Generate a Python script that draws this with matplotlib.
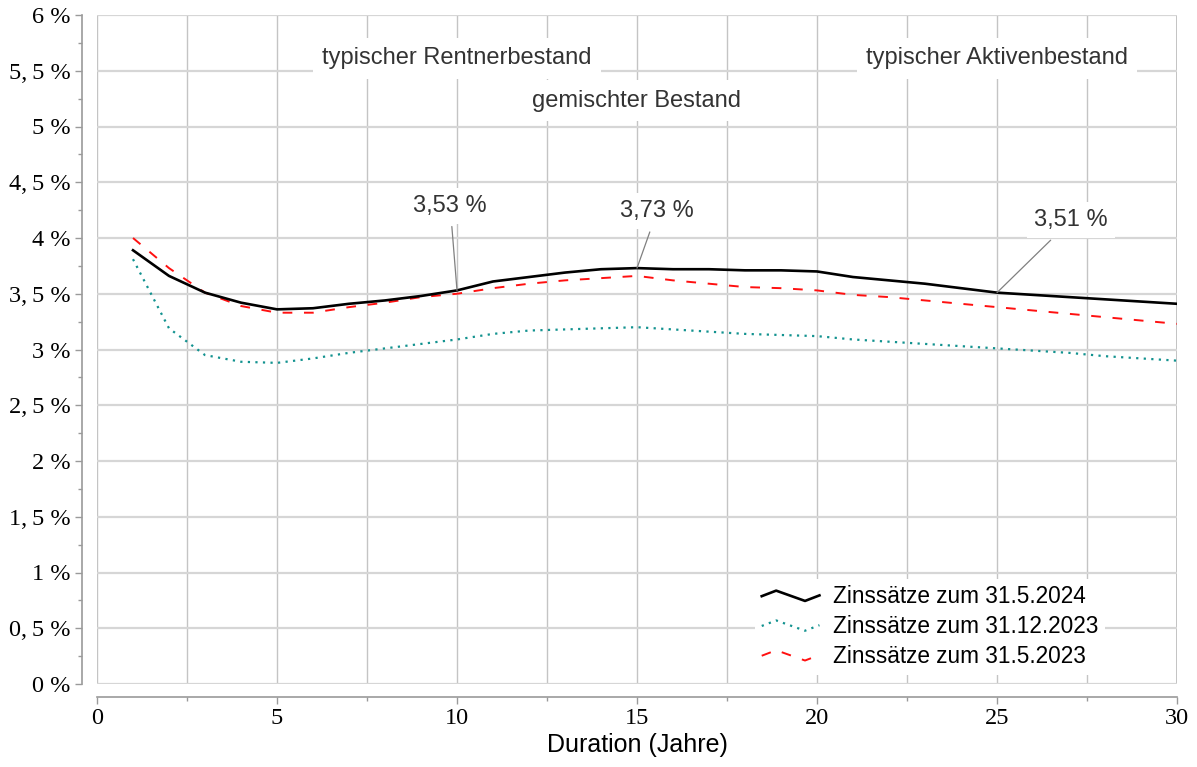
import numpy as np
import matplotlib
matplotlib.use("Agg")
import matplotlib.pyplot as plt
from matplotlib.ticker import MultipleLocator, FuncFormatter
from matplotlib.legend_handler import HandlerBase
from matplotlib.lines import Line2D

# Duration in Jahren
duration = list(range(1, 31))

# Zinssätze in %
zins_2024_05 = [3.89, 3.66, 3.51, 3.42, 3.36, 3.37, 3.41, 3.44, 3.48, 3.53,
                3.61, 3.65, 3.69, 3.72, 3.73, 3.72, 3.72, 3.71, 3.71, 3.70,
                3.65, 3.62, 3.59, 3.55, 3.51, 3.49, 3.47, 3.45, 3.43, 3.41]
zins_2023_12 = [3.81, 3.19, 2.95, 2.89, 2.88, 2.92, 2.97, 3.01, 3.05, 3.09,
                3.14, 3.17, 3.18, 3.19, 3.20, 3.18, 3.16, 3.14, 3.13, 3.12,
                3.09, 3.07, 3.05, 3.03, 3.01, 2.99, 2.97, 2.94, 2.92, 2.90]
zins_2023_05 = [4.00, 3.73, 3.51, 3.39, 3.33, 3.33, 3.38, 3.42, 3.47, 3.50,
                3.55, 3.59, 3.62, 3.64, 3.66, 3.62, 3.59, 3.56, 3.55, 3.53,
                3.49, 3.47, 3.44, 3.41, 3.38, 3.35, 3.32, 3.29, 3.26, 3.23]

series_labels = ["Zinssätze zum 31.5.2024", "Zinssätze zum 31.12.2023", "Zinssätze zum 31.5.2023"]

# Markierungen
marker_x = [10, 15, 25]
marker_y = [3.53, 3.73, 3.51]
marker_text = ["3,53 %", "3,73 %", "3,51 %"]
marker_text_x = [9.81, 15.56, 27.06]
marker_text_y = [4.29, 4.24, 4.16]

bestand_text = ["typischer Rentnerbestand", "gemischter Bestand", "typischer Aktivenbestand"]
bestand_x = [10, 15, 25]
bestand_y = [5.61, 5.23, 5.61]


class ZigzagHandler(HandlerBase):
    def create_artists(self, legend, orig_handle, xdescent, ydescent, width, height, fontsize, trans):
        xs = np.array([0.0, 0.25, 0.75, 1.0]) * width - xdescent
        ys = np.array([0.45, 0.8, 0.15, 0.5]) * height - ydescent
        line = Line2D(xs, ys)
        line.update_from(orig_handle)
        line.set_transform(trans)
        return [line]


def fmt_pct(v, pos):
    s = ("%g" % v).replace(".", ",\u2009")
    return s + " %"


fig = plt.figure(figsize=(11.97, 7.67), dpi=100)
ax = fig.add_axes([97 / 1197, 1 - 684 / 767, 1080 / 1197, 669 / 767])

l1, = ax.plot(duration, zins_2024_05, color="black", lw=1.9, zorder=4)
l2, = ax.plot(duration, zins_2023_12, color="#12928f", lw=1.6, ls=(0, (1, 2.4)), zorder=3)
l3, = ax.plot(duration, zins_2023_05, color="#ff1010", lw=1.4, ls=(0, (5, 6)), zorder=3)

ax.set_xlim(0, 30)
ax.set_ylim(0, 6)
ax.xaxis.set_major_locator(MultipleLocator(5))
ax.xaxis.set_minor_locator(MultipleLocator(2.5))
ax.yaxis.set_major_locator(MultipleLocator(0.5))
ax.yaxis.set_minor_locator(MultipleLocator(0.25))
ax.yaxis.set_major_formatter(FuncFormatter(fmt_pct))

ax.grid(axis="y", which="major", color="#d6d6d6", lw=1.6)
ax.grid(axis="x", which="both", color="#c4c4c4", lw=1.0)
ax.set_axisbelow(True)

for s in ["top", "right"]:
    ax.spines[s].set_visible(False)
ax.spines["left"].set_position(("outward", 11))
ax.spines["bottom"].set_position(("outward", 9.5))
for s in ["left", "bottom"]:
    ax.spines[s].set_color("#9a9a9a")
    ax.spines[s].set_linewidth(1.2)
ax.tick_params(which="both", color="#9a9a9a", direction="out")
ax.tick_params(which="major", length=5, width=1.0)
ax.tick_params(which="minor", length=3, width=1.0)
ax.tick_params(which="major", labelsize=17.5, labelfontfamily="Liberation Serif", pad=3)

# right border line at x=30
ax.axvline(30, color="#c4c4c4", lw=1.4, zorder=0)

ax.set_xlabel("Duration (Jahre)", fontsize=18, family="Liberation Sans", labelpad=3)

for i in range(len(marker_x)):
    ax.annotate(marker_text[i], xy=(marker_x[i], marker_y[i]),
                xytext=(marker_text_x[i], marker_text_y[i]),
                ha="center", va="center", fontsize=17, color="#333333",
                family="Liberation Sans", zorder=6,
                bbox=dict(boxstyle="square,pad=0.3", fc="white", ec="none"),
                arrowprops=dict(arrowstyle="-", color="#808080", lw=0.9,
                                shrinkA=2, shrinkB=0))

for i in range(len(bestand_text)):
    ax.text(bestand_x[i], bestand_y[i], bestand_text[i], ha="center", va="center",
            fontsize=17, color="#333333", family="Liberation Sans", zorder=6,
            bbox=dict(boxstyle="square,pad=0.4", fc="white", ec="none"))

leg = ax.legend([l1, l2, l3], series_labels, loc="lower right",
                bbox_to_anchor=(0.944, -0.003), frameon=True, fancybox=False,
                handler_map={Line2D: ZigzagHandler()},
                prop={"family": "Liberation Sans", "size": 16.3},
                handlelength=2.55, handletextpad=0.6, labelspacing=0.3,
                borderpad=0.3)
leg.get_frame().set_edgecolor("none")
leg.get_frame().set_facecolor("white")
leg.get_frame().set_alpha(1)
leg.set_zorder(7)

fig.savefig("out.png", dpi=100)
